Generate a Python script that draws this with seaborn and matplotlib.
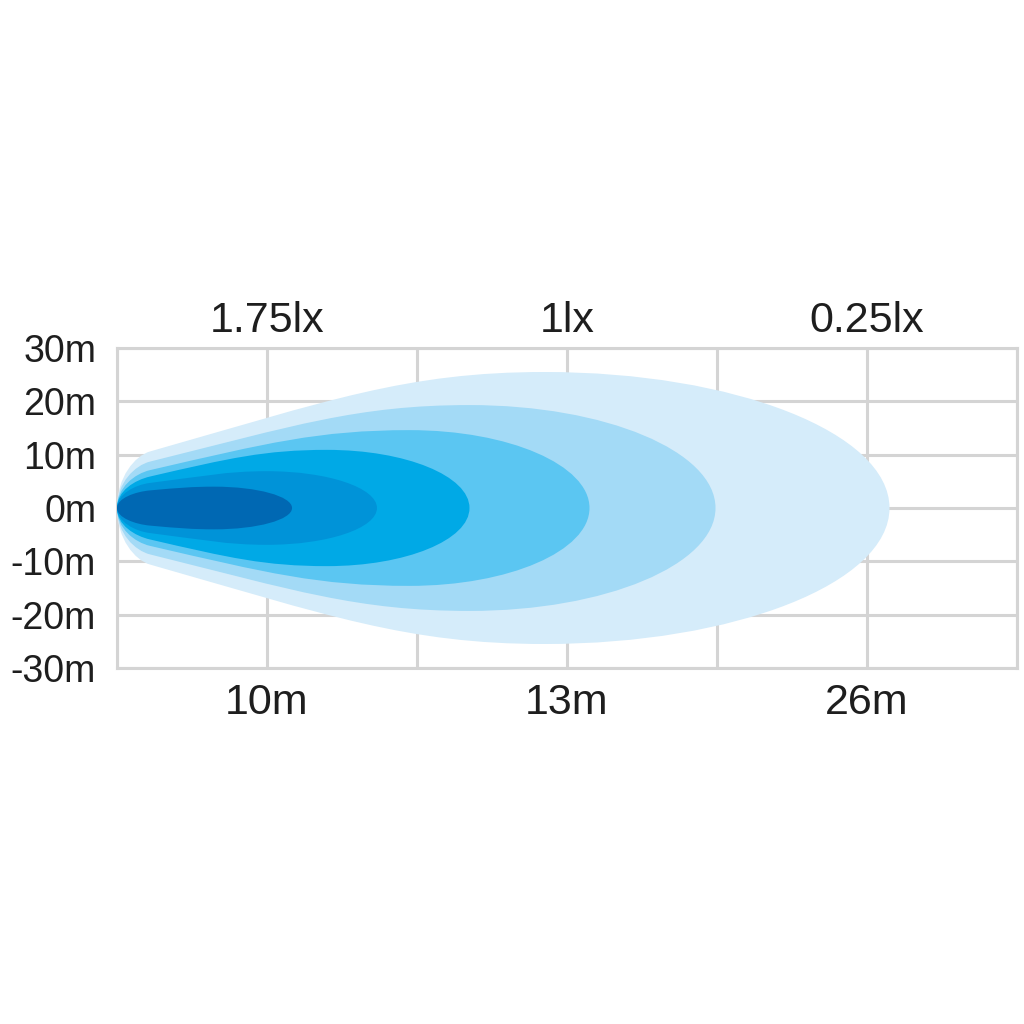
import numpy as np
import matplotlib
matplotlib.use("Agg")
import matplotlib.pyplot as plt
from matplotlib.path import Path
from matplotlib.patches import PathPatch
import seaborn as sns

# grid columns 0..6, labels only on every other column
x_ticks = [0, 1, 2, 3, 4, 5, 6]
x_labels = ["", "10m", "", "13m", "", "26m", ""]
top_ticks = [1, 3, 5]
top_labels = ["1.75lx", "1lx", "0.25lx"]
y_ticks = [30, 20, 10, 0, -10, -20, -30]
y_labels = ["30m", "20m", "10m", "0m", "-10m", "-20m", "-30m"]

# beam zones, brightest (innermost) first
zone_colors = ["#0068b3", "#0093d8", "#00a9e6", "#5bc6f2", "#a3daf6", "#d5ecfa"]
zone_length = [1.167, 1.733, 2.35, 3.15, 3.99, 5.15]   # reach along the beam (grid columns)
zone_width = [4.0, 6.9, 10.9, 14.6, 19.3, 25.5]        # max half width (m)
zone_peak = [0.65, 1.0, 1.4, 1.95, 2.35, 2.85]         # where the max width sits
zone_knee = [3.3, 4.7, 5.9, 7.1, 8.7, 10.6]            # half width near the lamp (x=0.22)
zone_slope = [2.5, 3.5, 6.5, 6.5, 7.0, 8.0]            # how fast the edge opens after the knee
knee_x = 0.22


def beam_path(L, W, xm, h1, s):
    a = knee_x
    d0 = 0.1
    d1 = (xm - a) * 0.45
    d2 = (xm - a) * 0.35
    k = 0.552
    verts = [
        (0, 0),
        (0, 0.55 * h1), (a - d0, h1 - s * d0), (a, h1),
        (a + d1, h1 + s * d1), (xm - d2, W), (xm, W),
        (xm + k * (L - xm), W), (L, k * W), (L, 0),
        (L, -k * W), (xm + k * (L - xm), -W), (xm, -W),
        (xm - d2, -W), (a + d1, -h1 - s * d1), (a, -h1),
        (a - d0, -h1 + s * d0), (0, -0.55 * h1), (0, 0),
    ]
    codes = [Path.MOVETO] + [Path.CURVE4] * 18
    return Path(verts, codes)


sns.set_theme(style="whitegrid", rc={
    "grid.color": "#d4d4d4",
    "grid.linewidth": 2.2,
    "axes.edgecolor": "#d4d4d4",
    "axes.linewidth": 2.2,
})
plt.rcParams["font.family"] = ["Liberation Sans", "DejaVu Sans"]

fig = plt.figure(figsize=(10.24, 10.24), dpi=100)
ax = fig.add_axes([117 / 1024, 1 - 668 / 1024, 900 / 1024, 320 / 1024])
ax.set_axisbelow(True)

# draw from the widest zone inward
for i in reversed(range(len(zone_colors))):
    p = beam_path(zone_length[i], zone_width[i], zone_peak[i], zone_knee[i], zone_slope[i])
    ax.add_patch(PathPatch(p, facecolor=zone_colors[i], edgecolor="none", zorder=3))

ax.set_xlim(0, 6)
ax.set_ylim(-30, 30)
ax.set_xticks(x_ticks, labels=x_labels)
ax.set_yticks(y_ticks, labels=y_labels)
ax.tick_params(axis="x", length=0, pad=11, labelsize=31, labelcolor="#1e1e1e")
ax.tick_params(axis="y", length=0, pad=15, labelsize=27, labelcolor="#1e1e1e")

top = ax.secondary_xaxis("top")
top.set_xticks(top_ticks, labels=top_labels)
top.tick_params(length=0, pad=5, labelsize=31, labelcolor="#1e1e1e")
top.spines["top"].set_visible(False)

for sp in ax.spines.values():
    sp.set_zorder(1)

fig.savefig("out.png", dpi=100, facecolor="white")
